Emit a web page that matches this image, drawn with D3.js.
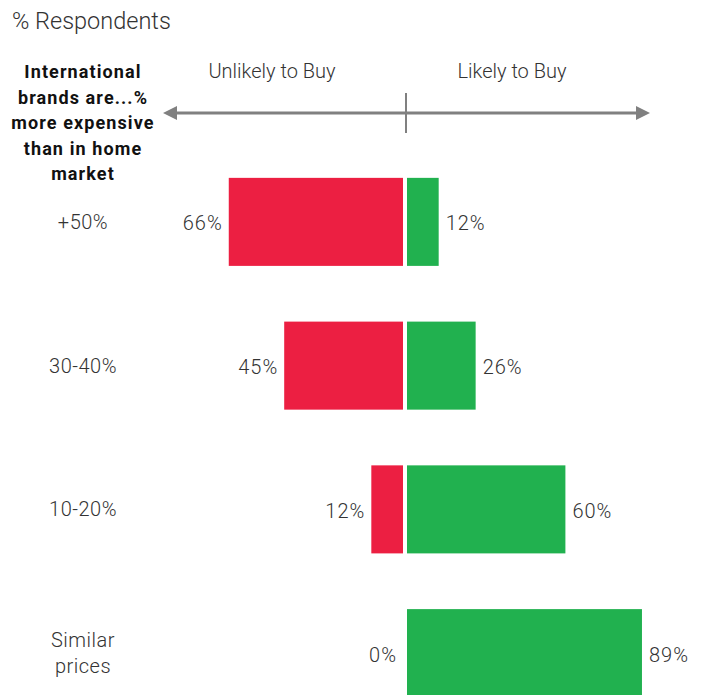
<!DOCTYPE html>
<html>
<head>
<meta charset="utf-8">
<script src="https://cdn.jsdelivr.net/npm/d3@7/dist/d3.min.js"></script>
<style>
  html, body { margin: 0; padding: 0; background: #fff; }
  svg { display: block; }
  text { font-family: Roboto, "Noto Sans", sans-serif; fill: #333; }
</style>
</head>
<body>
<svg id="chart" width="704" height="695"></svg>
<script>
// Price premium of international brands vs. home market
const categories = ["+50%", "30-40%", "10-20%", "Similar prices"];
const categoryLines = [["+50%"], ["30-40%"], ["10-20%"], ["Similar", "prices"]];
const unlikely = [66, 45, 12, 0];
const likely = [12, 26, 60, 89];
const headerLines = ["International", "brands are...%", "more expensive", "than in home", "market"];

const svg = d3.select("#chart");
const center = 405;
const gap = 2;

const xLeft = d3.scaleLinear().domain([0, 100]).range([center - gap, center - gap - 264]);
const xRight = d3.scaleLinear().domain([0, 100]).range([center + gap, center + gap + 264]);
const y = d3.scaleBand().domain(categories).range([150, 725])
  .paddingInner(0.3876).paddingOuter(0.1938);

const red = "#EC1F42", green = "#21B14F", grey = "#808080";

// subtitle
svg.append("text").attr("x", 12).attr("y", 29)
  .style("font-size", "23.5px").style("font-weight", 300).text("% Respondents");

// row header
const hdr = svg.append("text").attr("x", 83).attr("y", 78)
  .attr("text-anchor", "middle").style("font-size", "18px").style("font-weight", 700)
  .style("letter-spacing", "1.1px").style("fill", "#111");
headerLines.forEach((t, i) => hdr.append("tspan").attr("x", 83).attr("dy", i ? 25.5 : 0).text(t));

// direction labels
svg.append("text").attr("x", 272).attr("y", 78).attr("text-anchor", "middle")
  .style("font-size", "20px").style("font-weight", 300).text("Unlikely to Buy");
svg.append("text").attr("x", 512).attr("y", 78).attr("text-anchor", "middle")
  .style("font-size", "20px").style("font-weight", 300).text("Likely to Buy");

// double-headed arrow
const ay = 113;
svg.append("line").attr("x1", 172).attr("x2", 640).attr("y1", ay).attr("y2", ay)
  .attr("stroke", grey).attr("stroke-width", 3);
svg.append("path").attr("d", `M163,${ay} L177,${ay - 7} L177,${ay + 7} Z`).attr("fill", grey);
svg.append("path").attr("d", `M650,${ay} L636,${ay - 7} L636,${ay + 7} Z`).attr("fill", grey);
svg.append("line").attr("x1", 406).attr("x2", 406).attr("y1", 93).attr("y2", 133)
  .attr("stroke", grey).attr("stroke-width", 2);

// category labels
categories.forEach((c, i) => {
  const lines = categoryLines[i];
  const cy = y(c) + y.bandwidth() / 2;
  const t = svg.append("text").attr("text-anchor", "middle")
    .style("font-size", "20px").style("font-weight", 300).style("letter-spacing", "0.5px")
    .attr("y", cy - (lines.length - 1) * 13 + 7);
  lines.forEach((l, j) => t.append("tspan").attr("x", 83).attr("dy", j ? 26 : 0).text(l));
});

// bars
const rows = categories.map((c, i) => ({ c, u: unlikely[i], l: likely[i] }));
svg.selectAll("rect.unlikely").data(rows).join("rect").attr("class", "unlikely")
  .attr("x", d => xLeft(d.u)).attr("width", d => xLeft(0) - xLeft(d.u))
  .attr("y", d => y(d.c)).attr("height", y.bandwidth()).attr("fill", red);
svg.selectAll("rect.likely").data(rows).join("rect").attr("class", "likely")
  .attr("x", xRight(0)).attr("width", d => xRight(d.l) - xRight(0))
  .attr("y", d => y(d.c)).attr("height", y.bandwidth()).attr("fill", green);

// value labels
svg.selectAll("text.uval").data(rows).join("text").attr("class", "uval")
  .attr("x", d => xLeft(d.u) - 6).attr("y", d => y(d.c) + y.bandwidth() / 2 + 8.5)
  .attr("text-anchor", "end").style("font-size", "20px").style("font-weight", 300)
  .style("letter-spacing", "1px").text(d => d.u + "%");
svg.selectAll("text.lval").data(rows).join("text").attr("class", "lval")
  .attr("x", d => xRight(d.l) + 7).attr("y", d => y(d.c) + y.bandwidth() / 2 + 8.5)
  .attr("text-anchor", "start").style("font-size", "20px").style("font-weight", 300)
  .style("letter-spacing", "1px").text(d => d.l + "%");
</script>
</body>
</html>
